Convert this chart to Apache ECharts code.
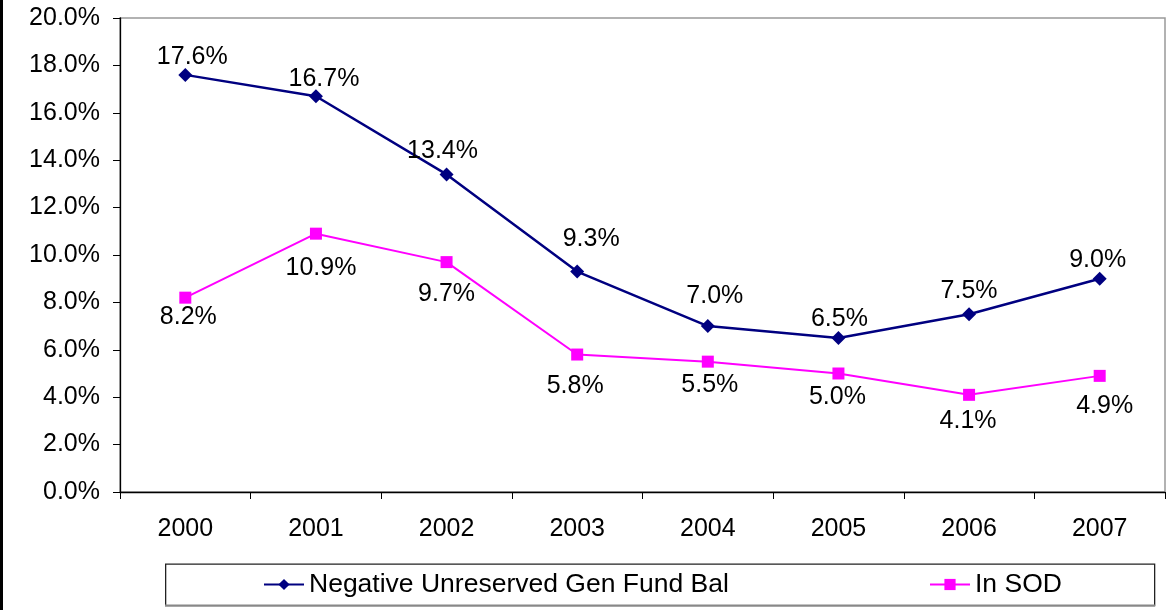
<!DOCTYPE html>
<html>
<head>
<meta charset="utf-8">
<title>Negative Unreserved Gen Fund Bal vs In SOD</title>
<script src="https://cdn.jsdelivr.net/npm/echarts@6/dist/echarts.min.js"></script>
<style>
  html, body { margin: 0; padding: 0; background: #fff; }
  #chart { width: 1167px; height: 610px; }
</style>
</head>
<body>
<div id="chart"></div>
<script>
// Chart data
var years = ['2000', '2001', '2002', '2003', '2004', '2005', '2006', '2007'];
var negativeBal = [17.6, 16.7, 13.4, 9.3, 7.0, 6.5, 7.5, 9.0];
var inSOD = [8.2, 10.9, 9.7, 5.8, 5.5, 5.0, 4.1, 4.9];
var seriesNames = ['Negative Unreserved Gen Fund Bal', 'In SOD'];

// Label spacing from each marker (px) and small sideways nudges
var navyLabelGap = [-2, -2, 4, 13, 10, -1, 4, -1];
var navyLabelDx = [7, 8, -4, 14, 7, 1, 0, -2];
var pinkLabelGap = [1, 16, 13, 13, 5, 5, 8, 12];
var pinkLabelDx = [3, 5, 0, -2, 2, -1, -1, 5];

var FONT = '"Liberation Sans", Arial, sans-serif';

function withLabels(values, gaps, dxs, position) {
  return values.map(function (v, i) {
    return { value: v, label: { position: position, distance: gaps[i], offset: [dxs[i], 0] } };
  });
}

var chart = echarts.init(document.getElementById('chart'), null, { renderer: 'canvas' });

chart.setOption({
  animation: false,
  backgroundColor: '#fff',
  textStyle: { fontFamily: FONT },
  grid: {
    left: 120, right: 2, top: 18, bottom: 118,
    show: true, borderColor: '#999', borderWidth: 1.5, backgroundColor: 'transparent'
  },
  graphic: [
    // outer left edge line
    { type: 'rect', left: 0, top: 0, shape: { width: 3, height: 610 }, style: { fill: '#000' }, z: 10 },
    // legend frame
    { type: 'rect', left: 165, top: 563.5, shape: { width: 989, height: 41.5 },
      style: { fill: '#fff', stroke: '#222', lineWidth: 1.3 }, z: 0 },
    { type: 'line', shape: { x1: 165, y1: 605.5, x2: 1155, y2: 605.5 },
      style: { stroke: '#888', lineWidth: 2 }, z: 1 }
  ],
  legend: [
    {
      data: [seriesNames[0]], left: 263, top: 571, padding: 0,
      itemWidth: 40, itemHeight: 14,
      textStyle: { fontFamily: FONT, fontSize: 26.5, color: '#000' }
    },
    {
      data: [seriesNames[1]], left: 929, top: 571, padding: 0,
      itemWidth: 40, itemHeight: 14,
      textStyle: { fontFamily: FONT, fontSize: 26.5, color: '#000' }
    }
  ],
  xAxis: {
    type: 'category',
    data: years,
    boundaryGap: true,
    axisLine: { lineStyle: { color: '#000', width: 1.3 } },
    axisTick: { show: true, alignWithLabel: false, length: 7, lineStyle: { color: '#000' } },
    axisLabel: { fontFamily: FONT, fontSize: 25, color: '#000', margin: 25 },
    splitLine: { show: false }
  },
  yAxis: {
    type: 'value',
    min: 0, max: 20, interval: 2,
    axisLine: { show: true, lineStyle: { color: '#000', width: 1.3 } },
    axisTick: { show: true, length: 7, lineStyle: { color: '#000' } },
    axisLabel: {
      fontFamily: FONT, fontSize: 25, color: '#000', margin: 20,
      formatter: function (v) { return v.toFixed(1) + '%'; }
    },
    splitLine: { show: false }
  },
  series: [
    {
      name: seriesNames[0],
      type: 'line',
      data: withLabels(negativeBal, navyLabelGap, navyLabelDx, 'top'),
      symbol: 'diamond', symbolSize: 14,
      lineStyle: { color: '#000080', width: 2.5 },
      itemStyle: { color: '#000080' },
      label: {
        show: true, fontFamily: FONT, fontSize: 25, color: '#000',
        formatter: function (p) { return p.value.toFixed(1) + '%'; }
      },
      z: 3
    },
    {
      name: seriesNames[1],
      type: 'line',
      data: withLabels(inSOD, pinkLabelGap, pinkLabelDx, 'bottom'),
      symbol: 'rect', symbolSize: 12,
      lineStyle: { color: '#FF00FF', width: 2 },
      itemStyle: { color: '#FF00FF' },
      label: {
        show: true, fontFamily: FONT, fontSize: 25, color: '#000',
        formatter: function (p) { return p.value.toFixed(1) + '%'; }
      },
      z: 2
    }
  ]
});
</script>
</body>
</html>
